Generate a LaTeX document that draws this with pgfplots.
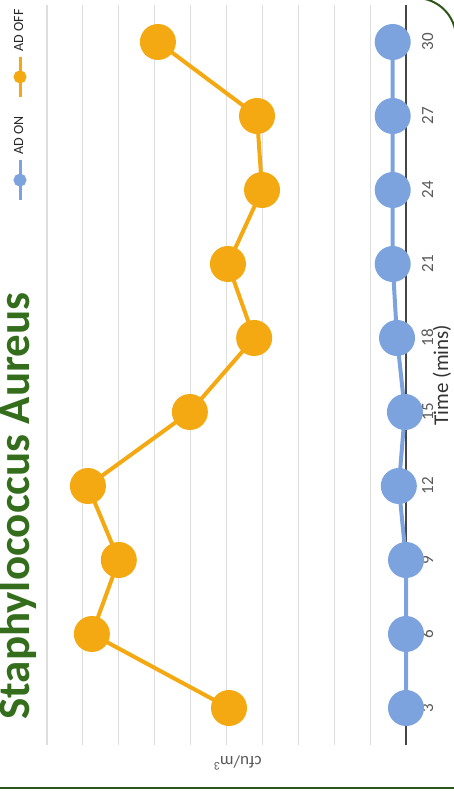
\documentclass[border=0pt]{standalone}
\usepackage{pgfplots}
\pgfplotsset{compat=1.18}
\usepackage{fontspec}
\setmainfont{Carlito}
\definecolor{adon}{RGB}{125,163,222}
\definecolor{adoff}{RGB}{244,169,18}
\definecolor{titlegreen}{RGB}{52,110,28}
\definecolor{framegreen}{RGB}{45,85,25}
\definecolor{gridgray}{RGB}{222,222,222}
\definecolor{axisgray}{RGB}{70,70,70}
\definecolor{labelgray}{RGB}{89,89,89}

\begin{document}
\rotatebox{90}{%
\begin{tikzpicture}
\path[use as bounding box] (0,0) rectangle (396pt,227pt);
\begin{axis}[
    at={(23.5pt,24pt)}, anchor=south west,
    scale only axis, width=370pt, height=179.5pt,
    xmin=1.5, xmax=31.5, ymin=0, ymax=10,
    xtick={3,6,...,30}, ytick={0,1,...,10}, yticklabels={},
    axis x line*=bottom, axis y line*=left,
    y axis line style={draw=none},
    x axis line style={axisgray, line width=1pt, -},
    major tick length=0pt,
    ymajorgrids, grid style={gridgray, line width=0.6pt},
    clip=false,
    /pgf/number format/assume math mode=true,
    xticklabel style={font=\fontsize{8.5}{10}\selectfont, text=labelgray, anchor=base, yshift=-13.5pt},
    xlabel={Time (mins)},
    xlabel style={at={(axis description cs:0.5,-0.117)}, anchor=base, font=\fontsize{10.5}{12}\selectfont, text=black!80},
    ylabel={cfu/m\textsuperscript{3}},
    ylabel style={at={(axis description cs:-0.0243,0.47)}, anchor=center, font=\fontsize{8.5}{10}\selectfont, text=labelgray},
    title={Staphylococcus Aureus},
    title style={at={(axis description cs:0.0338,1.0167)}, anchor=base west, inner sep=0pt, font=\fontsize{22.5}{27}\selectfont\bfseries, text=titlegreen},
    legend columns=-1,
    legend style={at={(axis description cs:1,1.0752)}, anchor=east, inner sep=0pt, draw=none, fill=none,
        font=\fontsize{7}{8}\selectfont, text=black!85,
        /tikz/every even column/.append style={column sep=7pt}},
    legend image code/.code={\draw[#1, line width=1.5pt] (0pt,0pt) -- (20pt,0pt); \fill[#1] (10pt,0pt) circle (2.2pt);},
]
\addplot[adon, line width=2pt, mark=*, mark size=8pt, mark options={fill=adon, draw=none}]
    coordinates {
        (3, 0)
        (6, 0)
        (9, 0)
        (12, 0.2)
        (15, 0.03)
        (18, 0.25)
        (21, 0.37)
        (24, 0.37)
        (27, 0.37)
        (30, 0.37)
    };
\addlegendentry{AD ON}
\addplot[adoff, line width=2pt, mark=*, mark size=8pt, mark options={fill=adoff, draw=none}]
    coordinates {
        (3, 4.93)
        (6, 8.75)
        (9, 8.0)
        (12, 8.86)
        (15, 6.02)
        (18, 4.23)
        (21, 4.96)
        (24, 4.01)
        (27, 4.15)
        (30, 6.91)
    };
\addlegendentry{AD OFF}
\end{axis}
\draw[framegreen, line width=1pt] (2pt,-5pt) -- (2pt,235pt);
\draw[framegreen, line width=1pt, rounded corners=20pt] (397pt,235pt) -- (397pt,-1pt) -- (300pt,-1pt);
\end{tikzpicture}}
\end{document}
